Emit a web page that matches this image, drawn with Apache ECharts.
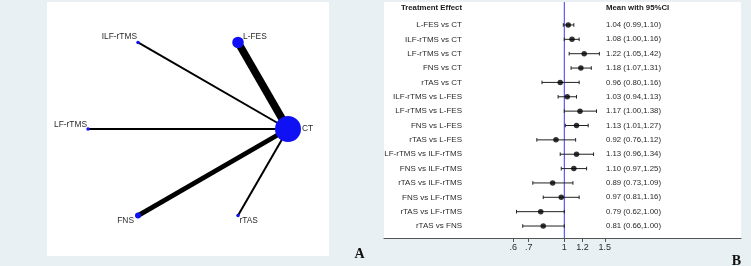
<!DOCTYPE html>
<html><head><meta charset="utf-8">
<script src="https://cdn.jsdelivr.net/npm/echarts@6/dist/echarts.min.js"></script>
<style>html,body{margin:0;padding:0;background:#e8f0f3;}#c{width:751px;height:266px;}</style>
</head><body><div id="c"></div>
<script>
// ---------- network data ----------
const nodeNames = ['CT', 'L-FES', 'ILF-rTMS', 'LF-rTMS', 'FNS', 'rTAS'];
const nodeWeight = [26, 11.5, 3.5, 3.5, 6, 3.5];
const edgeSource = ['CT', 'CT', 'CT', 'CT', 'CT'];
const edgeTarget = ['L-FES', 'ILF-rTMS', 'LF-rTMS', 'FNS', 'rTAS'];
const edgeStudies = [5, 1, 1, 3, 1];

// ---------- forest data ----------
const comparisons = ['L-FES vs CT', 'ILF-rTMS vs CT', 'LF-rTMS vs CT', 'FNS vs CT', 'rTAS vs CT',
  'ILF-rTMS vs L-FES', 'LF-rTMS vs L-FES', 'FNS vs L-FES', 'rTAS vs L-FES',
  'LF-rTMS vs ILF-rTMS', 'FNS vs ILF-rTMS', 'rTAS vs ILF-rTMS', 'FNS vs LF-rTMS',
  'rTAS vs LF-rTMS', 'rTAS vs FNS'];
const means = [1.04, 1.08, 1.22, 1.18, 0.96, 1.03, 1.17, 1.13, 0.92, 1.13, 1.10, 0.89, 0.97, 0.79, 0.81];
const lower = [0.99, 1.00, 1.05, 1.07, 0.80, 0.94, 1.00, 1.01, 0.76, 0.96, 0.97, 0.73, 0.81, 0.62, 0.66];
const upper = [1.10, 1.16, 1.42, 1.31, 1.16, 1.13, 1.38, 1.27, 1.12, 1.34, 1.25, 1.09, 1.16, 1.00, 1.00];
const refValue = 1;
const tickValues = [0.6, 0.7, 1, 1.2, 1.5];
const tickLabels = ['.6', '.7', '1', '1.2', '1.5'];

// ---------- build ----------
const FONT = "'Liberation Sans', Arial, sans-serif";
const ln = Math.log;
const XMIN = -1.803, XMAX = 1.767;
const ciTexts = means.map((m, i) => m.toFixed(2) + ' (' + lower[i].toFixed(2) + ',' + upper[i].toFixed(2) + ')');

const labelStyle = {
  'CT':       {align: 'left',  offset: [14, 0]},
  'L-FES':    {align: 'left',  offset: [5, -6]},
  'ILF-rTMS': {align: 'right', offset: [-1, -6]},
  'LF-rTMS':  {align: 'right', offset: [-1, -4.7]},
  'FNS':      {align: 'right', offset: [-4, 5.4]},
  'rTAS':     {align: 'left',  offset: [1.5, 5.4]}
};
const n = nodeNames.length;
const nodes = nodeNames.map((name, k) => {
  const a = 2 * Math.PI * k / n;
  const ls = labelStyle[name];
  return {
    name: name,
    value: [Math.cos(a), Math.sin(a)],
    symbolSize: nodeWeight[k],
    label: {show: true, position: 'inside', align: ls.align, verticalAlign: 'middle',
      offset: ls.offset, color: '#2a2a2a', fontSize: 8.4, fontFamily: FONT}
  };
});
const links = edgeSource.map((s, i) => ({
  source: s, target: edgeTarget[i],
  lineStyle: {width: 0.6 + 1.4 * edgeStudies[i], color: '#000', opacity: 1, curveness: 0}
}));

const ciData = comparisons.map((c, i) => [i, ln(lower[i]), ln(upper[i])]);
const ptData = comparisons.map((c, i) => [ln(means[i]), i]);

function nearestLabel(v) {
  let best = 0, bd = Infinity;
  tickValues.forEach((t, i) => { const d = Math.abs(ln(t) - v); if (d < bd) { bd = d; best = i; } });
  return tickLabels[best];
}

const chart = echarts.init(document.getElementById('c'), null, {renderer: 'canvas'});
chart.setOption({
  animation: false,
  backgroundColor: '#e8f0f3',
  grid: [
    {left: 47, top: 2, width: 282, height: 254, show: true, backgroundColor: '#fff', borderWidth: 0},
    {left: 384, top: 2, width: 357, height: 236, show: true, backgroundColor: '#fff', borderWidth: 0},
    {left: 384, top: 17.8, width: 357, height: 215.4}
  ],
  xAxis: [
    {gridIndex: 0, type: 'value', min: -1.41, max: 1.41, show: false},
    {gridIndex: 1, type: 'value', min: XMIN, max: XMAX,
      axisLine: {show: true, lineStyle: {color: '#555', width: 1}},
      axisTick: {show: true, customValues: tickValues.map(ln), length: 4, lineStyle: {color: '#555'}},
      axisLabel: {show: true, customValues: tickValues.map(ln), formatter: nearestLabel,
        margin: 5, fontSize: 9, color: '#2a2a2a', fontFamily: FONT},
      splitLine: {show: false}},
    {gridIndex: 2, type: 'value', min: XMIN, max: XMAX, show: false}
  ],
  yAxis: [
    {gridIndex: 0, type: 'value', min: -1.27, max: 1.27, show: false},
    {gridIndex: 1, type: 'value', min: 0, max: 1, show: false},
    {gridIndex: 2, type: 'category', data: comparisons, inverse: true, position: 'left', offset: -78,
      axisLine: {show: false}, axisTick: {show: false}, splitLine: {show: false},
      axisLabel: {margin: 0, fontSize: 8, color: '#2a2a2a', fontFamily: FONT, interval: 0}},
    {gridIndex: 2, type: 'category', data: ciTexts, inverse: true, position: 'right', offset: -135,
      axisLine: {show: false}, axisTick: {show: false}, splitLine: {show: false},
      axisLabel: {margin: 0, fontSize: 7.8, color: '#2a2a2a', fontFamily: FONT, interval: 0}}
  ],
  series: [
    {type: 'graph', coordinateSystem: 'cartesian2d', xAxisIndex: 0, yAxisIndex: 0,
      data: nodes, links: links, itemStyle: {color: '#1010f5'},
      emphasis: {disabled: true}, silent: true, z: 3},
    {type: 'line', xAxisIndex: 1, yAxisIndex: 1, data: [[ln(refValue), 0], [ln(refValue), 1]],
      symbol: 'none', lineStyle: {color: '#3a3af2', width: 1}, silent: true, z: 2},
    {type: 'custom', xAxisIndex: 2, yAxisIndex: 2, data: ciData, encode: {x: [1, 2], y: 0}, z: 3,
      renderItem: function (params, api) {
        const y = api.value(0);
        const lo = api.coord([api.value(1), y]);
        const hi = api.coord([api.value(2), y]);
        const c = 1.8;
        const st = {stroke: '#222', lineWidth: 1};
        return {type: 'group', children: [
          {type: 'line', shape: {x1: lo[0], y1: lo[1], x2: hi[0], y2: hi[1]}, style: st},
          {type: 'line', shape: {x1: lo[0], y1: lo[1] - c, x2: lo[0], y2: lo[1] + c}, style: st},
          {type: 'line', shape: {x1: hi[0], y1: hi[1] - c, x2: hi[0], y2: hi[1] + c}, style: st}
        ]};
      }},
    {type: 'scatter', xAxisIndex: 2, yAxisIndex: 2, data: ptData, symbol: 'circle', symbolSize: 5.5,
      itemStyle: {color: '#000'}, z: 4, silent: true}
  ],
  graphic: [
    {type: 'text', style: {text: 'Treatment Effect', x: 462, y: 8, align: 'right', verticalAlign: 'middle',
      font: "bold 7.8px " + FONT, fill: '#1a1a1a'}},
    {type: 'text', style: {text: 'Mean with 95%CI', x: 606, y: 8, align: 'left', verticalAlign: 'middle',
      font: "bold 7.8px " + FONT, fill: '#1a1a1a'}},
    {type: 'text', style: {text: 'A', x: 359.5, y: 254.5, align: 'center', verticalAlign: 'middle',
      font: "bold 14px 'Liberation Serif', 'Times New Roman', serif", fill: '#111'}},
    {type: 'text', style: {text: 'B', x: 736.5, y: 261, align: 'center', verticalAlign: 'middle',
      font: "bold 14px 'Liberation Serif', 'Times New Roman', serif", fill: '#111'}}
  ]
});
</script></body></html>
